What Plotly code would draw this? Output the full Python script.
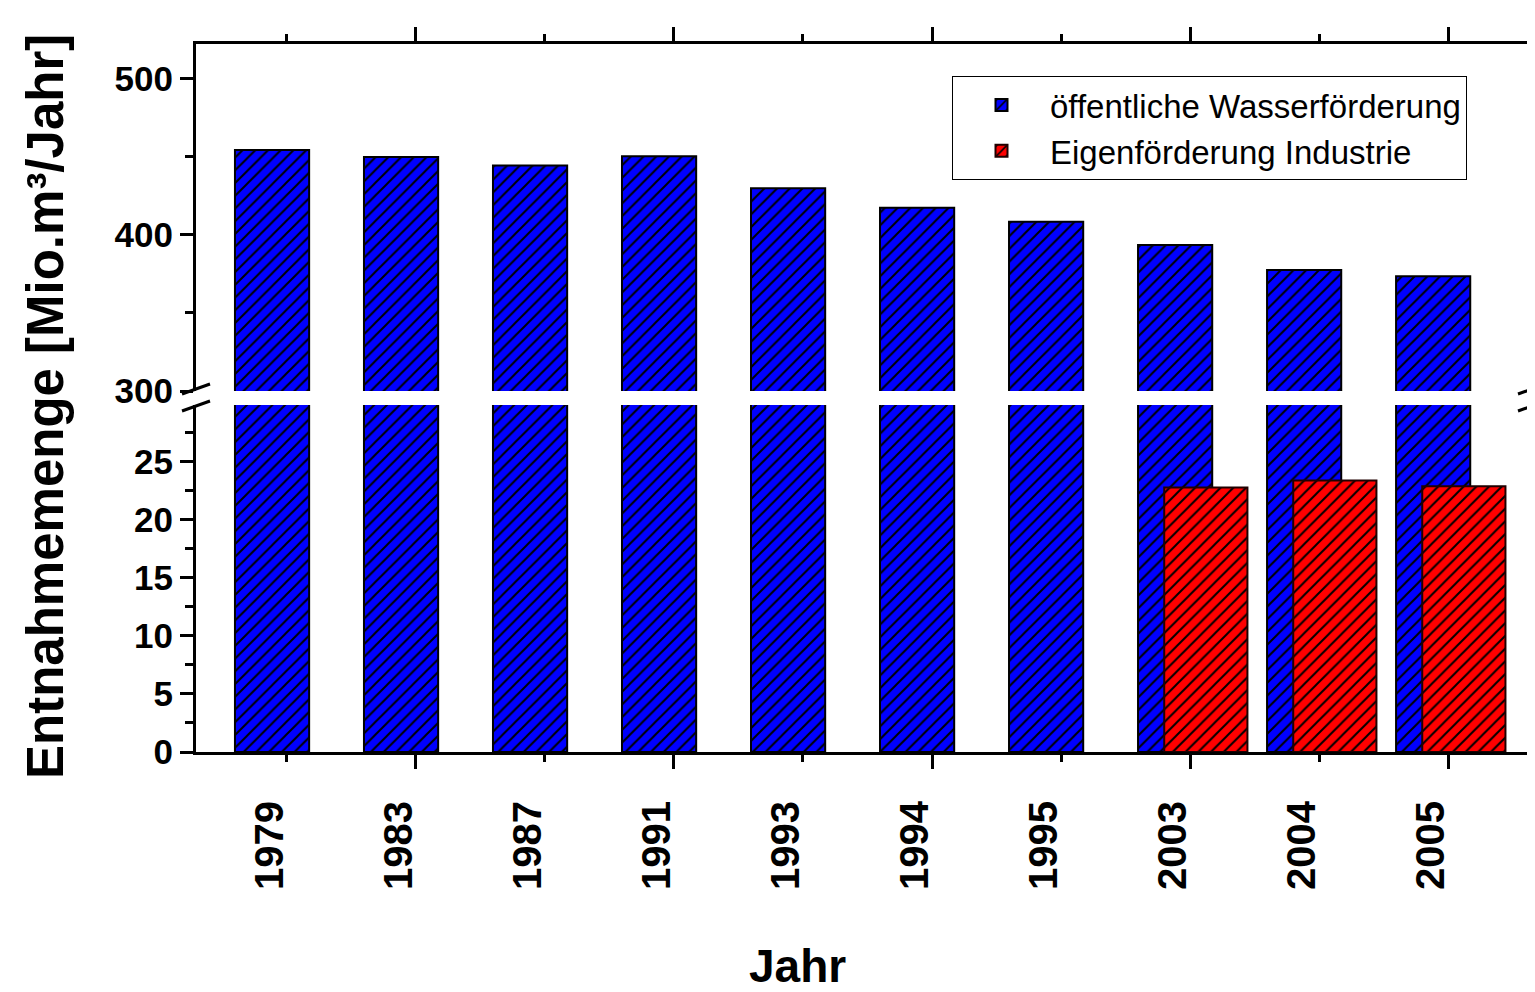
import plotly.graph_objects as go

years = ['1979', '1983', '1987', '1991', '1993', '1994', '1995', '2003', '2004', '2005']
public_supply = [454.5, 450.0, 444.5, 450.5, 430.0, 417.5, 408.5, 393.5, 377.5, 373.5]
industry_supply = [None, None, None, None, None, None, None, 22.8, 23.4, 22.9]
series_names = ['öffentliche Wasserförderung', 'Eigenförderung Industrie']
lower_ticks = [0, 5, 10, 15, 20, 25]
lower_minor = [2.5, 7.5, 12.5, 17.5, 22.5, 27.5]
upper_ticks = [300, 400, 500]
upper_minor = [350, 450]

idx = list(range(len(years)))
FONT = 'Liberation Sans, Arial, sans-serif'
BLUE = '#0000FF'
RED = '#FF0000'

# page has an 8px body margin; compensate so the plot lands at the reference pixels
OFF = 8
W, H = 1535 - OFF, 992 - OFF
ML, MR, MT, MB = 196 - OFF, 0, 44 - OFF, 240
PW, PH = W - ML - MR, H - MT - MB


def px2x(px):
    return (px - OFF - ML) / PW


def py2y(py):
    return (H + OFF - MB - py) / PH


XR = [-0.705, 9.674]
LOW_DOM = [0, py2y(405)]
UP_DOM = [py2y(391), 1]

blue_pat = dict(shape='/', fgcolor='black', bgcolor=BLUE, size=9, solidity=0.22, fillmode='replace')
red_pat = dict(shape='/', fgcolor='black', bgcolor=RED, size=9, solidity=0.22, fillmode='replace')

fig = go.Figure()
# lower panel
fig.add_trace(go.Bar(x=idx, y=public_supply, name=series_names[0], xaxis='x', yaxis='y',
                     offset=-0.403, width=0.575,
                     marker=dict(color=BLUE, pattern=blue_pat, line=dict(color='black', width=2)),
                     showlegend=True, legendrank=1))
fig.add_trace(go.Bar(x=idx, y=industry_supply, name=series_names[1], xaxis='x3', yaxis='y',
                     offset=-0.2, width=0.645,
                     marker=dict(color=RED, pattern=red_pat, line=dict(color='#200000', width=2)),
                     showlegend=True, legendrank=2))
# upper panel
fig.add_trace(go.Bar(x=idx, y=public_supply, name=series_names[0], xaxis='x2', yaxis='y2',
                     offset=-0.403, width=0.575,
                     marker=dict(color=BLUE, pattern=blue_pat, line=dict(color='black', width=2)),
                     showlegend=False))

axis_common = dict(showline=True, linecolor='black', linewidth=3, showgrid=False, zeroline=False,
                   ticks='outside', tickcolor='black', tickwidth=3)

odd = [i for i in idx if i % 2 == 1]
even = [i for i in idx if i % 2 == 0]

fig.update_layout(
    width=W, height=H,
    margin=dict(l=ML, r=MR, t=MT, b=MB, autoexpand=False),
    plot_bgcolor='white', paper_bgcolor='white',
    barmode='overlay',
    font=dict(family=FONT, color='black'),
    xaxis=dict(domain=[0, 1], anchor='y', range=XR, tickmode='array', tickvals=odd, ticklen=14,
               minor=dict(tickmode='array', tickvals=even, ticks='outside', ticklen=7, tickwidth=3,
                          tickcolor='black'),
               showticklabels=False, **axis_common),
    xaxis2=dict(domain=[0, 1], anchor='y2', side='top', range=XR, tickmode='array', tickvals=odd,
                ticklen=14,
                minor=dict(tickmode='array', tickvals=even, ticks='outside', ticklen=7, tickwidth=3,
                           tickcolor='black'),
                showticklabels=False, **axis_common),
    xaxis3=dict(overlaying='x', anchor='y', range=XR, tickmode='array', tickvals=idx, ticktext=years,
                ticks='', showline=False, showgrid=False, zeroline=False, tickangle=-90,
                tickfont=dict(family=FONT, size=40, weight='bold', color='black'),
                ticklabelshift=-17, ticklabelstandoff=40),
    yaxis=dict(domain=LOW_DOM, anchor='x', range=[0, 29.9], tickmode='array', tickvals=lower_ticks,
               ticklen=13,
               minor=dict(tickmode='array', tickvals=lower_minor, ticks='outside', ticklen=8,
                          tickwidth=3, tickcolor='black'),
               tickfont=dict(family=FONT, size=35, weight='bold', color='black'), **axis_common),
    yaxis2=dict(domain=UP_DOM, anchor='x2', range=[300, 522.4], tickmode='array', tickvals=upper_ticks,
                ticklen=13,
                minor=dict(tickmode='array', tickvals=upper_minor, ticks='outside', ticklen=8,
                           tickwidth=3, tickcolor='black'),
                tickfont=dict(family=FONT, size=35, weight='bold', color='black'), **axis_common),
    legend=dict(x=px2x(952), y=py2y(76), xanchor='left', yanchor='top',
                bordercolor='black', borderwidth=1, bgcolor='white',
                font=dict(family=FONT, size=33, color='black'),
                itemwidth=87, tracegroupgap=0),
)

# axis titles
fig.add_annotation(text='Entnahmemenge [Mio.m³/Jahr]', xref='paper', yref='paper',
                   x=px2x(45), y=py2y(407), textangle=-90, showarrow=False,
                   xanchor='center', yanchor='middle',
                   font=dict(family=FONT, size=51, weight='bold', color='black'))
fig.add_annotation(text='Jahr', xref='paper', yref='paper', x=px2x(797), y=py2y(966),
                   showarrow=False, xanchor='center', yanchor='middle',
                   font=dict(family=FONT, size=46, weight='bold', color='black'))

# axis break marks
for cx in (196, 1532):
    for (ya, yb) in ((394, 384), (411, 401)):
        fig.add_shape(type='line', xref='paper', yref='paper',
                      x0=px2x(cx - 14), x1=px2x(cx + 14), y0=py2y(ya), y1=py2y(yb),
                      line=dict(color='black', width=3))

fig.write_html('out.html')
